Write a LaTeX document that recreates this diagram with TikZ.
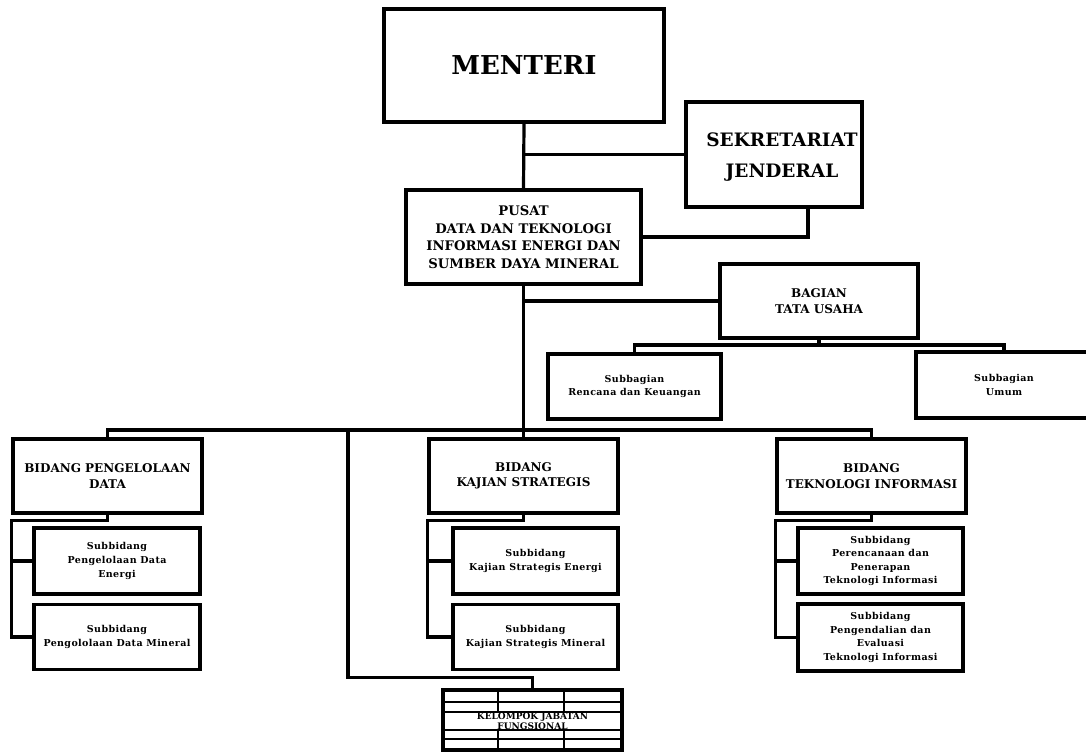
\documentclass[tikz,border=0pt]{standalone}
\usepackage{fontspec}
\setmainfont{DejaVu Serif}
\newfontfamily\subf[LetterSpace=4]{DejaVu Serif}
\begin{document}
\begin{tikzpicture}[x=1pt,y=-1pt,
  box/.style={draw, line width=3.2pt, rectangle, inner sep=0pt, align=center},
  conn/.style={line width=3.2pt},
  grid/.style={line width=1.8pt},
  ftop/.style={font=\fontsize{26}{30}\selectfont\bfseries},
  fsek/.style={font=\fontsize{18.5}{31}\selectfont\bfseries, align=center, inner sep=0pt},
  fpus/.style={font=\fontsize{13.2}{17.5}\selectfont\bfseries},
  fbid/.style={font=\fontsize{12}{15.5}\selectfont\bfseries},
  fsub/.style={font=\subf\fontsize{9.5}{13.6}\selectfont\bfseries},
  fkel/.style={font=\fontsize{9}{10.5}\selectfont\bfseries}
]
\useasboundingbox (0,0) rectangle (1086,752);
\begin{scope}
\clip (0,0) rectangle (1086,752);
% main nodes
\node[box, ftop, minimum width=280, minimum height=113] (menteri) at (524,65.5) {MENTERI};
\node[box, minimum width=176, minimum height=105] (sekjen) at (774,154.5) {};
\node[fsek] (sekjent) at (782,157) {SEKRETARIAT\\JENDERAL};
\node[box, fpus, minimum width=235, minimum height=94] (pusat) at (523.5,237) {PUSAT\\DATA DAN TEKNOLOGI\\INFORMASI ENERGI DAN\\SUMBER DAYA MINERAL};
\node[box, fbid, minimum width=198, minimum height=74] (bagian) at (819,301) {BAGIAN\\TATA USAHA};
\node[box, fsub, minimum width=173, minimum height=65] (rencana) at (634.5,386.5) {Subbagian\\Rencana dan Keuangan};
\node[box, fsub, minimum width=176, minimum height=66] (umum) at (1004,385) {Subbagian\\Umum};
% bidang
\node[box, fbid, minimum width=189, minimum height=74] (bpd) at (107.5,476) {BIDANG PENGELOLAAN\\DATA};
\node[box, fbid, minimum width=189, minimum height=74] (bks) at (523.5,476) {BIDANG\\KAJIAN STRATEGIS};
\node[box, fbid, minimum width=189, minimum height=74] (bti) at (871.5,476) {BIDANG\\TEKNOLOGI INFORMASI};
% subbidang
\node[box, fsub, minimum width=166, minimum height=66] (spd1) at (117,561) {Subbidang\\Pengelolaan Data\\Energi};
\node[box, fsub, minimum width=166, minimum height=65] (spd2) at (117,637) {Subbidang\\Pengololaan Data Mineral};
\node[box, fsub, minimum width=165, minimum height=66] (sks1) at (535.5,561) {Subbidang\\Kajian Strategis Energi};
\node[box, fsub, minimum width=165, minimum height=65] (sks2) at (535.5,637) {Subbidang\\Kajian Strategis Mineral};
\node[box, fsub, minimum width=165, minimum height=66] (sti1) at (880.5,561) {Subbidang\\Perencanaan dan\\Penerapan\\Teknologi Informasi};
\node[box, fsub, minimum width=165, minimum height=67] (sti2) at (880.5,637.5) {Subbidang\\Pengendalian dan\\Evaluasi\\Teknologi Informasi};
% kelompok jabatan fungsional table
\node[box, minimum width=179, minimum height=60] (kel) at (532.5,720) {};
\draw[grid] (kel.west |- 0,702) -- (kel.east |- 0,702);
\draw[grid] (kel.west |- 0,712) -- (kel.east |- 0,712);
\draw[grid] (kel.west |- 0,730) -- (kel.east |- 0,730);
\draw[grid] (kel.west |- 0,739) -- (kel.east |- 0,739);
\draw[grid] (kel.north -| 498,0) -- (498,712);
\draw[grid] (kel.north -| 564,0) -- (564,712);
\draw[grid] (kel.south -| 498,0) -- (498,730);
\draw[grid] (kel.south -| 564,0) -- (564,730);
\node[fkel, align=center, inner sep=0pt] (kelt) at (532.5,721) {KELOMPOK JABATAN\\FUNGSIONAL};
% connectors
\coordinate (bar) at (0,430);
\coordinate (tu) at (0,345);
\coordinate (kj) at (348,430);
\draw[conn] (menteri.south) -- (pusat.north);
\draw[conn] (sekjen.west) -- (sekjen.west -| menteri.south);
\draw[conn] (pusat.east) -| ([xshift=34pt]sekjen.south);
\draw[conn] (pusat.south) -- (bks.north);
\draw[conn] (bagian.west) -- (bagian.west -| pusat.south);
\draw[conn] (bagian.south) -- (bagian.south |- tu);
\draw[conn] (rencana.north) -- (rencana.north |- tu) -- (umum.north |- tu) -- (umum.north);
\draw[conn] (bpd.north) -- (bpd.north |- bar) -- (bti.north |- bar) -- (bti.north);
\draw[conn] (kj) |- ([yshift=11pt]kel.north) -- (kel.north);
% sub connectors
\draw[conn] (bpd.south) -- ++(0,6) -| (spd2.west -| bpd.west) -- (spd2.west);
\draw[conn] (spd1.west -| bpd.west) -- (spd1.west);
\draw[conn] (bks.south) -- ++(0,6) -| (sks2.west -| bks.west) -- (sks2.west);
\draw[conn] (sks1.west -| bks.west) -- (sks1.west);
\draw[conn] (bti.south) -- ++(0,6) -| (sti2.west -| bti.west) -- (sti2.west);
\draw[conn] (sti1.west -| bti.west) -- (sti1.west);
\end{scope}
\end{tikzpicture}
\end{document}
